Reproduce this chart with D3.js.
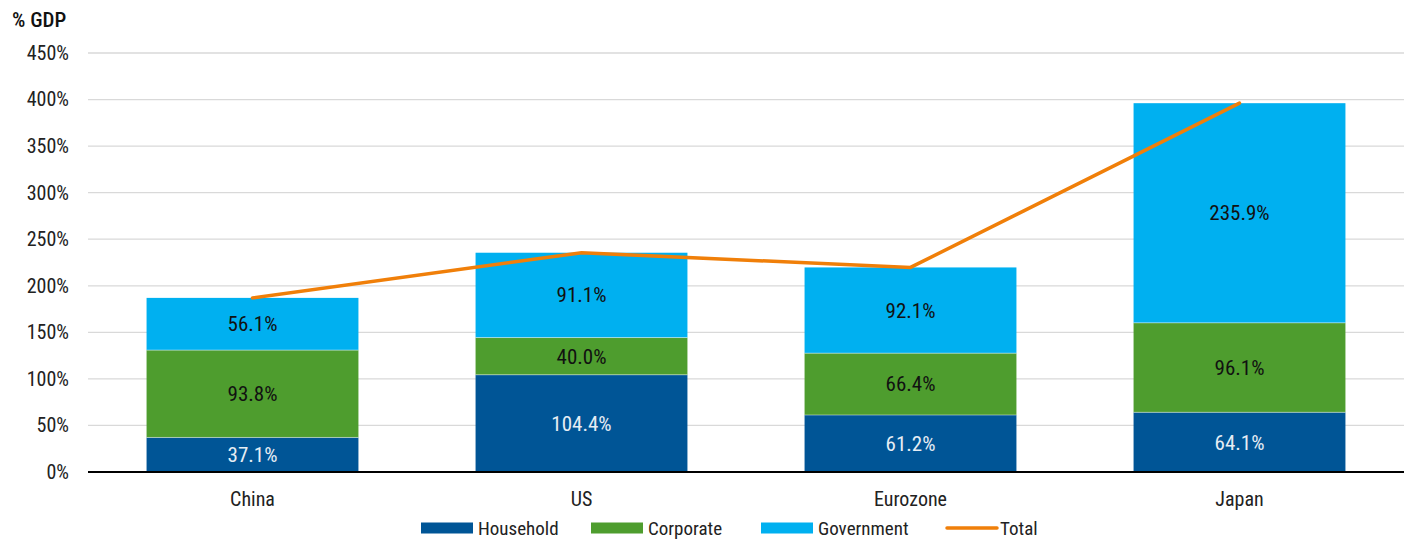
<!DOCTYPE html>
<html><head><meta charset="utf-8">
<script src="https://cdn.jsdelivr.net/npm/d3@7"></script>
<style>
body{margin:0;background:#fff;}
svg text{font-family:"Roboto Condensed","Liberation Sans Narrow",sans-serif;}
</style></head>
<body><svg id="c" width="1404" height="542"></svg>
<script>
const categories = ["China","US","Eurozone","Japan"];
const household = [37.1,104.4,61.2,64.1];
const corporate = [93.8,40.0,66.4,96.1];
const government = [56.1,91.1,92.1,235.9];
const total = [187.0,235.5,219.7,396.1];
const yTicks = [0,50,100,150,200,250,300,350,400,450];
const seriesNames = ["Household","Corporate","Government"];
const colors = {Household:"#005596",Corporate:"#4e9d2e",Government:"#00b0f0",Total:"#f07f09"};
const labelColors = {Household:"#e6edf4",Corporate:"#111",Government:"#111"};
const FONT = '"Roboto Condensed","Liberation Sans Narrow",sans-serif';

const svg = d3.select("#c");
const x = d3.scaleBand().domain(categories).range([88,1404]).paddingInner(0.356).paddingOuter(0.178);
const y = d3.scaleLinear().domain([0,450]).range([472,53]);

// gridlines
svg.append("g").selectAll("line").data(yTicks.filter(d=>d>0)).join("line")
  .attr("x1",88).attr("x2",1404).attr("y1",d=>y(d)).attr("y2",d=>y(d))
  .attr("stroke","#d9d9d9").attr("stroke-width",1.3);

// y axis labels
const yAxis = d3.axisLeft(y).tickValues(yTicks).tickFormat(d=>d+"%").tickSize(0).tickPadding(0);
const ya = svg.append("g").attr("transform","translate(69,0)").call(yAxis);
ya.select(".domain").remove();
ya.selectAll("text").attr("font-size",20).attr("fill","#222").style("font-family",FONT);

svg.append("text").attr("x",12).attr("y",27).attr("font-size",21).attr("font-weight",500).attr("fill","#111").text("% GDP");

// stacked bars
const data = categories.map((c,i)=>({cat:c,Household:household[i],Corporate:corporate[i],Government:government[i]}));
const stack = d3.stack().keys(seriesNames)(data);
const g = svg.append("g");
stack.forEach(s=>{
  const key = s.key;
  g.selectAll(null).data(s).join("rect")
    .attr("x",d=>x(d.data.cat)).attr("width",x.bandwidth())
    .attr("y",d=>y(d[1])).attr("height",d=>y(d[0])-y(d[1]))
    .attr("fill",colors[key]);
});
// segment separators (thin light edge)
stack.slice(1).forEach(s=>{
  g.selectAll(null).data(s).join("line")
    .attr("x1",d=>x(d.data.cat)).attr("x2",d=>x(d.data.cat)+x.bandwidth())
    .attr("y1",d=>y(d[0])).attr("y2",d=>y(d[0]))
    .attr("stroke","#ffffff").attr("stroke-opacity",0.45).attr("stroke-width",1);
});
stack.forEach(s=>{
  const key = s.key;
  g.selectAll(null).data(s).join("text")
    .attr("x",d=>x(d.data.cat)+x.bandwidth()/2)
    .attr("y",d=>(y(d[0])+y(d[1]))/2)
    .attr("dy","0.35em").attr("text-anchor","middle").attr("font-size",21)
    .attr("fill",labelColors[key])
    .text(d=>d.data[key].toFixed(1)+"%");
});

// x axis baseline
svg.append("line").attr("x1",88).attr("x2",1404).attr("y1",y(0)).attr("y2",y(0)).attr("stroke","#000").attr("stroke-width",2);
const xAxis = d3.axisBottom(x).tickSize(0).tickPadding(0);
const xa = svg.append("g").attr("transform","translate(0,"+(y(0)+27)+")").call(xAxis);
xa.select(".domain").remove();
xa.selectAll("text").attr("font-size",20).attr("fill","#222").attr("dy","0.35em").style("font-family",FONT);

// total line
const line = d3.line().x((d,i)=>x(categories[i])+x.bandwidth()/2).y(d=>y(d));
svg.append("path").datum(total).attr("d",line).attr("fill","none")
  .attr("stroke",colors.Total).attr("stroke-width",3.5).attr("stroke-linecap","round");

// legend
const legend = [
  {name:"Household",x:421,type:"rect"},
  {name:"Corporate",x:591,type:"rect"},
  {name:"Government",x:761,type:"rect"},
  {name:"Total",x:947,type:"line"}
];
const ly = 528;
const lg = svg.append("g");
legend.forEach(l=>{
  if(l.type==="rect"){
    lg.append("rect").attr("x",l.x).attr("y",ly-5.5).attr("width",52).attr("height",11).attr("fill",colors[l.name]);
  } else {
    lg.append("line").attr("x1",l.x).attr("x2",l.x+50).attr("y1",ly).attr("y2",ly).attr("stroke",colors.Total).attr("stroke-width",3.5).attr("stroke-linecap","round");
  }
  lg.append("text").attr("x",l.x+(l.type==="rect"?57:53)).attr("y",ly).attr("dy","0.35em").attr("font-size",19).attr("fill","#222").text(l.name);
});
</script></body></html>
